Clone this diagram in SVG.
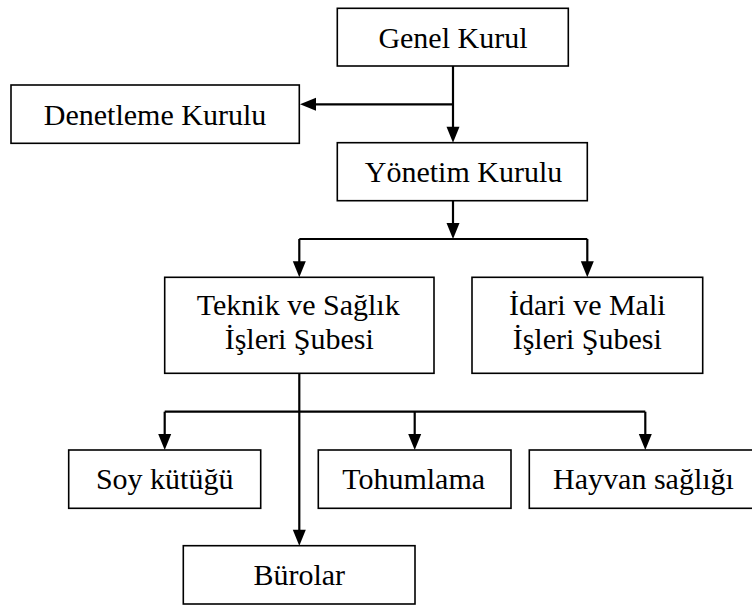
<svg xmlns="http://www.w3.org/2000/svg" width="752" height="606" viewBox="0 0 752 606">
<rect width="752" height="606" fill="#fff"/>
<g id="connectors">
<g fill="none" stroke="#000" stroke-width="2.2">
<path d="M453,66 V128"/>
<path d="M453,104.3 H314"/>
<path d="M453,200.7 V224"/>
<path d="M299.3,239 H587.3"/>
<path d="M299.3,239 V262"/>
<path d="M587.3,239 V262"/>
<path d="M299.3,373.3 V531"/>
<path d="M164.7,411.7 H645.3"/>
<path d="M164.7,411.7 V435"/>
<path d="M414.7,411.7 V435"/>
<path d="M645.3,411.7 V435"/>
</g>
<g fill="#000">
<polygon points="446.5,126.7 459.5,126.7 453,142.7"/>
<polygon points="316,97.8 316,110.8 300,104.3"/>
<polygon points="446.5,223 459.5,223 453,239"/>
<polygon points="292.8,261.3 305.8,261.3 299.3,277.3"/>
<polygon points="580.8,261.3 593.8,261.3 587.3,277.3"/>
<polygon points="292.8,529.7 305.8,529.7 299.3,545.7"/>
<polygon points="158.2,434 171.2,434 164.7,450"/>
<polygon points="408.2,434 421.2,434 414.7,450"/>
<polygon points="638.8,434 651.8,434 645.3,450"/>
</g>
</g>
<g id="genel-kurul">
<rect x="337.3" y="8.3" width="231" height="57.7" fill="#fff" stroke="#000" stroke-width="1.6"/>
<text x="378.4" y="48" font-size="30" font-family="Liberation Serif">Genel Kurul</text>
</g>
<g id="denetleme-kurulu">
<rect x="11" y="85" width="288.3" height="58.3" fill="#fff" stroke="#000" stroke-width="1.6"/>
<text x="43.8" y="125" font-size="30" font-family="Liberation Serif">Denetleme Kurulu</text>
</g>
<g id="yonetim-kurulu">
<rect x="337.3" y="142.7" width="250" height="58" fill="#fff" stroke="#000" stroke-width="1.6"/>
<text x="364.8" y="181.7" font-size="30" font-family="Liberation Serif">Yönetim Kurulu</text>
</g>
<g id="teknik-saglik">
<rect x="164.7" y="277.3" width="269.3" height="96" fill="#fff" stroke="#000" stroke-width="1.6"/>
<text x="196.8" y="315" font-size="30" font-family="Liberation Serif">Teknik ve Sağlık</text>
<text x="224.7" y="349" font-size="30" font-family="Liberation Serif">İşleri Şubesi</text>
</g>
<g id="idari-mali">
<rect x="472" y="277.3" width="230.7" height="96" fill="#fff" stroke="#000" stroke-width="1.6"/>
<text x="509" y="315" font-size="30" font-family="Liberation Serif">İdari ve Mali</text>
<text x="512.7" y="349" font-size="30" font-family="Liberation Serif">İşleri Şubesi</text>
</g>
<g id="soy-kutugu">
<rect x="68.7" y="450" width="192" height="58.3" fill="#fff" stroke="#000" stroke-width="1.6"/>
<text x="95.9" y="489" font-size="30" font-family="Liberation Serif">Soy kütüğü</text>
</g>
<g id="tohumlama">
<rect x="318.3" y="450" width="192.7" height="58.3" fill="#fff" stroke="#000" stroke-width="1.6"/>
<text x="342.2" y="489" font-size="30" font-family="Liberation Serif">Tohumlama</text>
</g>
<g id="hayvan-sagligi">
<rect x="529.3" y="450" width="232" height="58.3" fill="#fff" stroke="#000" stroke-width="1.6"/>
<text x="553.1" y="489" font-size="30" font-family="Liberation Serif">Hayvan sağlığı</text>
</g>
<g id="burolar">
<rect x="183.3" y="545.7" width="231.7" height="58.3" fill="#fff" stroke="#000" stroke-width="1.6"/>
<text x="253.4" y="585" font-size="30" font-family="Liberation Serif">Bürolar</text>
</g>
</svg>
